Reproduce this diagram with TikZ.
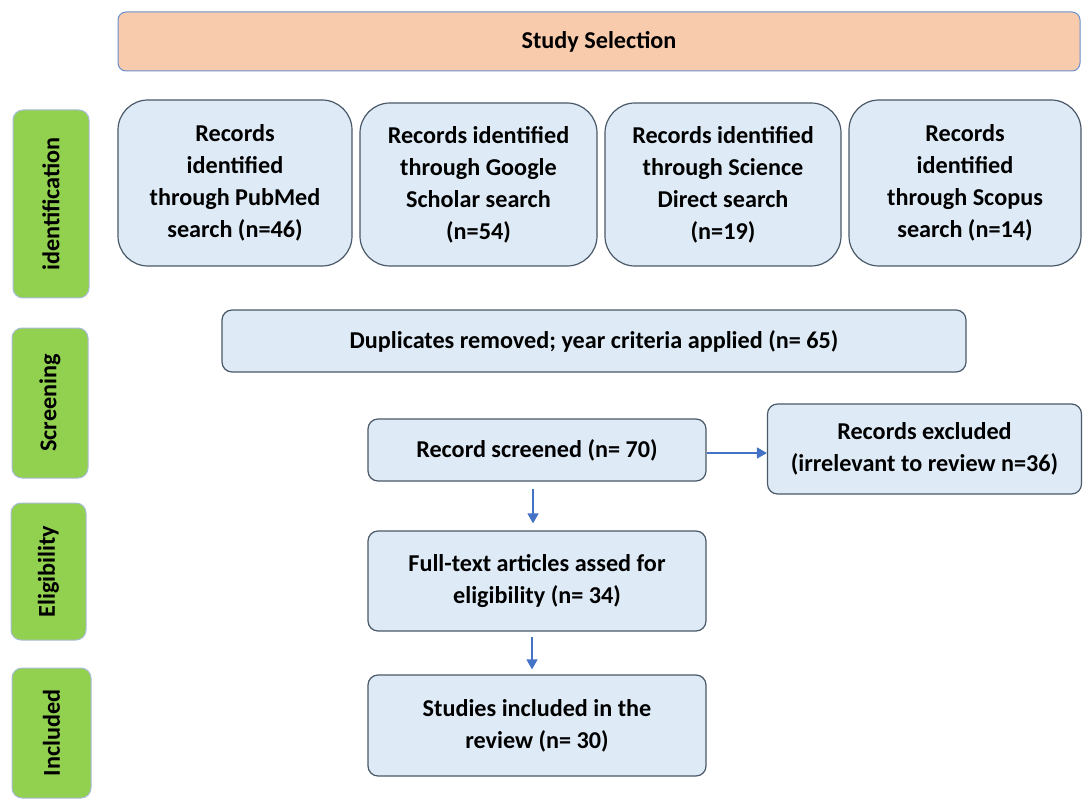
\documentclass[tikz,border=0pt]{standalone}
\usepackage{fontspec}
\setmainfont{Carlito}
\usetikzlibrary{arrows.meta}
\definecolor{peach}{HTML}{F8CBAD}
\definecolor{boxfill}{HTML}{DEEBF7}
\definecolor{boxline}{HTML}{4A5868}
\definecolor{greenfill}{HTML}{92D050}
\definecolor{greenline}{HTML}{A9BCD6}
\definecolor{arrowblue}{HTML}{4472C4}
\tikzset{
  every node/.style={font=\fontsize{24.2}{32}\selectfont\bfseries, align=center, inner sep=2pt},
  flowbox/.style={draw=boxline, line width=1.2pt, fill=boxfill, rounded corners=10pt},
  bigbox/.style={flowbox, rounded corners=30pt},
  sidebox/.style={draw=greenline, line width=1pt, fill=greenfill, rounded corners=10pt},
  titlebox/.style={draw=arrowblue!80, line width=1pt, fill=peach, rounded corners=8pt},
  flowarrow/.style={draw=arrowblue, line width=1.5pt, -{Triangle[length=10pt,width=11pt]}}
}
\begin{document}
\begin{tikzpicture}[x=1pt,y=-1pt]
\useasboundingbox (0,0) rectangle (1083,799);
% title
\node[titlebox, minimum width=962pt, minimum height=59pt] (title) at (599,41.5) {Study Selection};
% side labels
\node[sidebox, minimum width=76pt, minimum height=188pt] (sident) at (51,204) {};
\node[rotate=90] (tident) at (sident.center) {identification};
\node[sidebox, minimum width=76pt, minimum height=150pt] (sscreen) at (50,403) {};
\node[rotate=90] (tscreen) at (sscreen.center) {Screening};
\node[sidebox, minimum width=75pt, minimum height=137pt] (selig) at (48.5,571.5) {};
\node[rotate=90] (telig) at (selig.center) {Eligibility};
\node[sidebox, minimum width=79pt, minimum height=130pt] (sincl) at (51.5,733) {};
\node[rotate=90] (tincl) at (sincl.center) {Included};
% identification boxes
\node[bigbox, minimum width=234pt, minimum height=166pt] (pub) at (235,183) {Records\\identified\\through PubMed\\search (n=46)};
\node[bigbox, minimum width=237pt, minimum height=163pt] (goog) at (478.5,184.5) {Records identified\\through Google\\Scholar search\\(n=54)};
\node[bigbox, minimum width=236pt, minimum height=163pt] (sd) at (723,184.5) {Records identified\\through Science\\Direct search\\(n=19)};
\node[bigbox, minimum width=232pt, minimum height=166pt] (scop) at (965,183) {Records\\identified\\through Scopus\\search (n=14)};
% screening
\node[flowbox, minimum width=744pt, minimum height=62pt] (dup) at (594,341) {Duplicates removed; year criteria applied (n= 65)};
\node[flowbox, minimum width=338pt, minimum height=62pt] (scr) at (537,450) {Record screened (n= 70)};
\node[flowbox, minimum width=314pt, minimum height=90pt] (exc) at (924.5,449) {Records excluded\\(irrelevant to review n=36)};
% eligibility
\node[flowbox, minimum width=338pt, minimum height=100pt] (full) at (537,581) {Full-text articles assed for\\eligibility (n= 34)};
% included
\node[flowbox, minimum width=338pt, minimum height=101pt] (inc) at (537,725.5) {Studies included in the\\review (n= 30)};
% arrows
\draw[flowarrow] ([yshift=-3pt]scr.east) -- ([yshift=-3pt]scr.east -| exc.west);
\draw[flowarrow] ([xshift=-4pt,yshift=-7pt]scr.south) -- ([xshift=-4pt,yshift=7pt]full.north);
\draw[flowarrow] ([xshift=-5pt,yshift=-5pt]full.south) -- ([xshift=-5pt,yshift=5pt]inc.north);
\end{tikzpicture}
\end{document}
